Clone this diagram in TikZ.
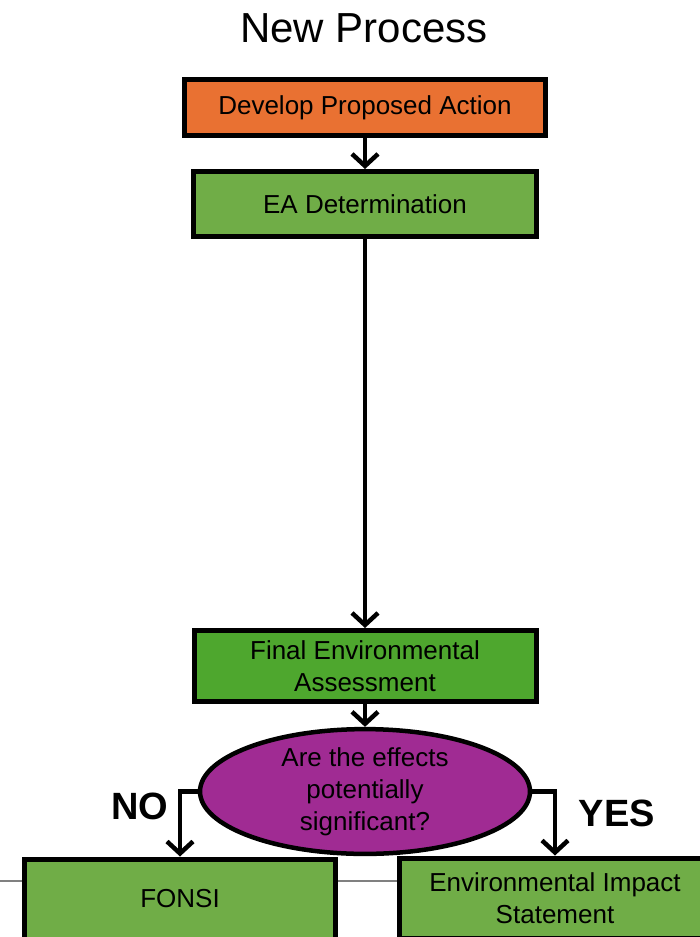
\documentclass[tikz,border=0pt]{standalone}
\usepackage{fontspec}
\setmainfont{Liberation Sans}
\usetikzlibrary{arrows.meta,shapes.geometric}

\definecolor{actionorange}{HTML}{E97132}
\definecolor{stepgreen}{HTML}{70AD47}
\definecolor{finalgreen}{HTML}{4EA72E}
\definecolor{askpurple}{HTML}{A02B93}

\begin{document}
\begin{tikzpicture}[x=1pt,y=-1pt,
    box/.style={draw, line width=5pt, align=center, inner sep=0pt,
        font=\fontsize{26}{32}\selectfont},
    flow/.style={line width=4.5pt, -{Straight Barb[length=12pt,width=26pt]}},
    answer/.style={font=\fontsize{38}{40}\selectfont\bfseries}]

    % Fix the page size (reference is 699 x 937)
    \useasboundingbox (0,0) rectangle (699,937);

    % Thin grey rule behind the bottom boxes
    \coordinate (ruleL) at (0,881);
    \coordinate (ruleR) at (699,881);
    \draw[gray, line width=1.5pt] (ruleL) -- (ruleR);

    % Title
    \node (title) at (364,28) {\fontsize{42}{50}\selectfont New Process};

    % Process steps
    \node[box, fill=actionorange, minimum width=361, minimum height=56]
        (develop) at (365,107.5) {Develop Proposed Action};
    \node[box, fill=stepgreen, minimum width=343, minimum height=65]
        (eadet) at (365,204) {EA Determination};
    \node[box, fill=finalgreen, minimum width=342, minimum height=71]
        (finalea) at (365,666) {Final Environmental\\Assessment};

    % Decision
    \node[draw, ellipse, line width=4.5pt, fill=askpurple, inner sep=0pt,
        minimum width=330, minimum height=113, align=center,
        font=\fontsize{26}{32}\selectfont]
        (effects) at (365,791.5) {Are the effects\\potentially\\significant?};

    % Outcomes (cut off by the page bottom)
    \node[box, fill=stepgreen, minimum width=311, minimum height=80]
        (fonsi) at (180,899) {FONSI};
    \node[box, fill=stepgreen, minimum width=311, minimum height=80]
        (eis) at (555,898) {Environmental Impact\\Statement};

    % Connectors
    \draw[flow] (develop) -- (eadet);
    \draw[flow] (eadet) -- (finalea);
    \draw[flow] (finalea) -- (effects);
    \draw[flow] (effects.west) -| (fonsi.north);
    \draw[flow] (effects.east) -| (eis.north);

    % Branch labels
    \node[answer] (no) at (140,806) {NO};
    \node[answer] (yes) at (617,813) {YES};

\end{tikzpicture}
\end{document}
